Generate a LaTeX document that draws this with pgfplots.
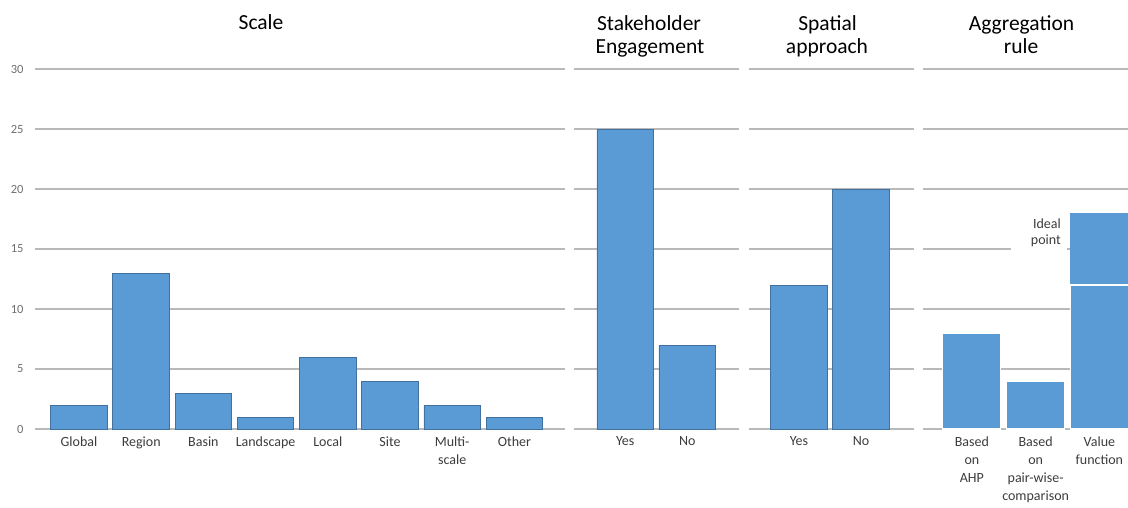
\documentclass[border=0pt]{standalone}
\usepackage{fontspec}
\setmainfont{Carlito}
\usepackage{pgfplots}
\pgfplotsset{compat=1.18}
\definecolor{barblue}{RGB}{91,155,213}
\definecolor{baredge}{RGB}{65,113,156}
\definecolor{gridgray}{RGB}{185,185,185}
\definecolor{ticktext}{RGB}{60,60,60}
\definecolor{ytext}{RGB}{110,110,110}
\pgfplotsset{
  panel/.style={
    scale only axis, anchor=south west, height=360pt,
    ymin=0, ymax=30, ytick={0,5,...,30},
    ymajorgrids, major grid style={draw=gridgray, line width=1.5pt},
    axis line style={draw=none}, major tick length=0pt,
    xticklabel style={font=\fontsize{14}{18}\selectfont, text=ticktext, align=center, anchor=north, yshift=-4pt},
    /pgf/number format/assume math mode=true,
    ybar, bar width=56.5pt,
    clip=false,
  },
  bars/.style={fill=barblue, draw=baredge, line width=0.9pt, bar shift=0pt}
}
\begin{document}
\begin{tikzpicture}
\path[use as bounding box] (0,0) rectangle (1128pt,507pt);

% Scale
\begin{axis}[panel, at={(35pt,78pt)}, width=530pt, xmin=-0.707, xmax=7.813,
  xtick={0,1,2,3,4,5,6,7},
  xticklabels={Global,Region,Basin,Landscape,Local,Site,{Multi-\\scale},Other},
  yticklabel style={font=\fontsize{12.5}{14}\selectfont, text=ytext, xshift=-8pt}]
\addplot[bars] coordinates {(0,2) (1,13) (2,3) (3,1) (4,6) (5,4) (6,2) (7,1)};
\end{axis}

% Stakeholder engagement
\begin{axis}[panel, at={(574pt,78pt)}, width=164.7pt, xmin=-0.826, xmax=1.83,
  xtick={0,1}, xticklabels={Yes,No}, yticklabels={}]
\addplot[bars] coordinates {(0,25) (1,7)};
\end{axis}

% Spatial approach
\begin{axis}[panel, at={(749pt,78pt)}, width=165pt, xmin=-0.806, xmax=1.855,
  xtick={0,1}, xticklabels={Yes,No}, yticklabels={}]
\addplot[bars] coordinates {(0,12) (1,20)};
\end{axis}

% Aggregation rule
\begin{axis}[panel, at={(923pt,78pt)}, width=205pt, xmin=-0.767, xmax=2.449,
  xtick={0,1,2}, yticklabels={},
  xticklabels={{Based\\on\\AHP},{Based\\on\\pair-wise-\\comparison},{Value\\function}}]
\addplot[fill=barblue, draw=none, bar shift=0pt, bar width=58pt] coordinates {(2,18)};
\addplot[fill=barblue, draw=white, line width=1.2pt, bar shift=0pt, bar width=58pt] coordinates {(0,8) (1,4) (2,12)};
\end{axis}

\node[fill=white, text width=44pt, align=right, anchor=north east, inner xsep=6pt, inner ysep=5pt,
  font=\fontsize{14}{16}\selectfont, text=ticktext] at (1067pt,293pt) {Ideal\\point};

% titles
\begin{scope}[every node/.style={font=\fontsize{21.5}{24}\selectfont, anchor=base, inner sep=0pt}]
\node at (261pt,477.5pt) {Scale};
\node at (649pt,476.5pt) {Stakeholder};
\node at (650pt,453pt) {Engagement};
\node at (827.5pt,476.5pt) {Spatial};
\node at (827pt,453pt) {approach};
\node at (1021.5pt,476.5pt) {Aggregation};
\node at (1021pt,453pt) {rule};
\end{scope}
\end{tikzpicture}
\end{document}
